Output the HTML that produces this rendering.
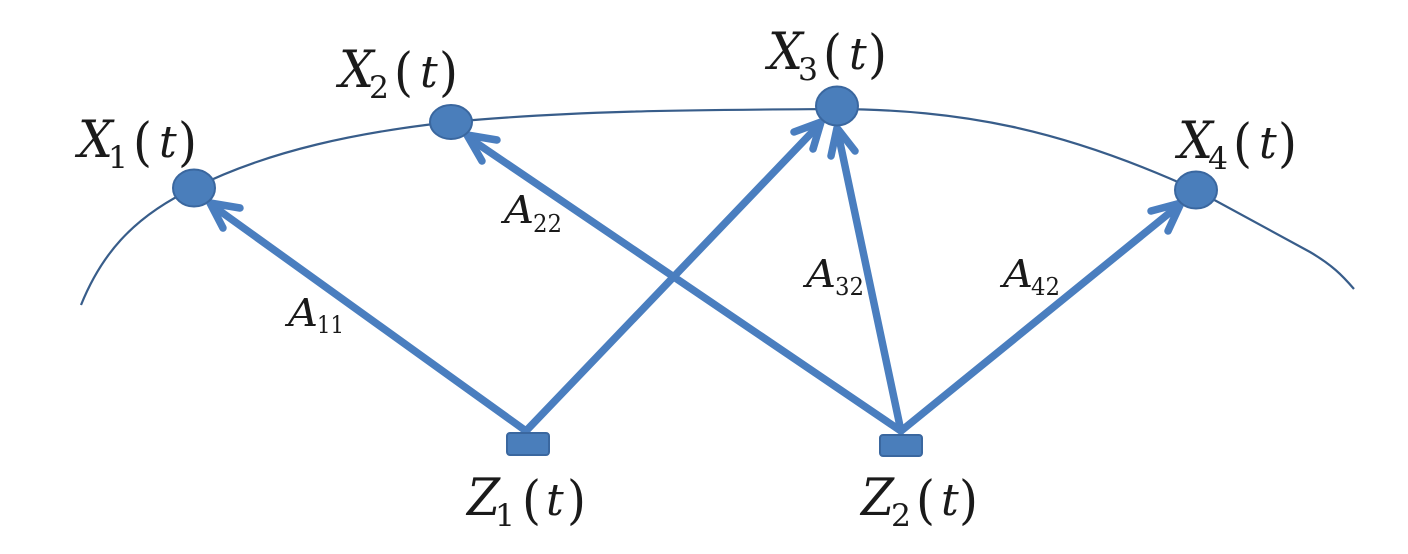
<!DOCTYPE html>
<html>
<head>
<meta charset="utf-8">
<style>
html,body{margin:0;padding:0;background:#fff;width:1408px;height:554px;overflow:hidden}
svg{display:block}
text{font-family:"DejaVu Serif","Liberation Serif",serif;fill:#1a1a1a}
.m{font-style:italic;font-size:51px}
.t{font-style:italic;font-size:44px}
.s{font-size:31px}
.p{font-size:52px}
.a{font-style:italic;font-size:38px}
.d{font-size:24px}
.ar{fill:none;stroke:#4a7ebf;stroke-width:7.5;stroke-linecap:round;stroke-linejoin:round}
</style>
</head>
<body>
<svg width="1408" height="554" viewBox="0 0 1408 554" xmlns="http://www.w3.org/2000/svg">
<rect width="1408" height="554" fill="#fff"/>
<path d="M81 305C100 258 130 218 194 188C270 150 360 132 451 122C580 110 700 110 837 109C960 110 1060 128 1196 190C1240 214 1280 236 1310 252C1332 265 1342 275 1354 289" fill="none" stroke="#385d8a" stroke-width="2.2"/>

<g class="ar">
<path d="M526 431L213 206"/>
<path d="M240 208L210 203L223 228"/>
<path d="M526 431L818 126"/>
<path d="M794 132L821 122L813 149"/>
<path d="M901 431L472 140"/>
<path d="M497 140L467 135L482 161"/>
<path d="M901 431L838 133"/>
<path d="M831 156L837 128L855 151"/>
<path d="M901 431L1178 206"/>
<path d="M1151 211L1181 203L1168 231"/>
</g>

<g fill="#4a7ebb" stroke="#3a679f" stroke-width="2">
<ellipse cx="194" cy="188" rx="21" ry="18.5"/>
<ellipse cx="451" cy="122" rx="21" ry="17"/>
<ellipse cx="837" cy="106" rx="21" ry="19.5"/>
<ellipse cx="1196" cy="190" rx="21" ry="18.5"/>
<rect x="507" y="433" width="42" height="22" rx="3"/>
<rect x="880" y="435" width="42" height="21" rx="3"/>
</g>

<!-- X1 -->
<text class="m" x="78" y="157" textLength="35" lengthAdjust="spacingAndGlyphs">X</text>
<text class="s" x="108" y="168" textLength="20" lengthAdjust="spacingAndGlyphs">1</text>
<text class="p" x="133" y="160" textLength="19" lengthAdjust="spacingAndGlyphs">(</text>
<text class="t" x="159" y="157">t</text>
<text class="p" x="178" y="160" textLength="19" lengthAdjust="spacingAndGlyphs">)</text>
<!-- X2 -->
<text class="m" x="339" y="87" textLength="35" lengthAdjust="spacingAndGlyphs">X</text>
<text class="s" x="369" y="98" textLength="20" lengthAdjust="spacingAndGlyphs">2</text>
<text class="p" x="394" y="90" textLength="19" lengthAdjust="spacingAndGlyphs">(</text>
<text class="t" x="420" y="87">t</text>
<text class="p" x="439" y="90" textLength="19" lengthAdjust="spacingAndGlyphs">)</text>
<!-- X3 -->
<text class="m" x="768" y="69" textLength="35" lengthAdjust="spacingAndGlyphs">X</text>
<text class="s" x="798" y="80" textLength="20" lengthAdjust="spacingAndGlyphs">3</text>
<text class="p" x="823" y="72" textLength="19" lengthAdjust="spacingAndGlyphs">(</text>
<text class="t" x="849" y="69">t</text>
<text class="p" x="868" y="72" textLength="19" lengthAdjust="spacingAndGlyphs">)</text>
<!-- X4 -->
<text class="m" x="1178" y="158" textLength="35" lengthAdjust="spacingAndGlyphs">X</text>
<text class="s" x="1208" y="169" textLength="20" lengthAdjust="spacingAndGlyphs">4</text>
<text class="p" x="1233" y="161" textLength="19" lengthAdjust="spacingAndGlyphs">(</text>
<text class="t" x="1259" y="158">t</text>
<text class="p" x="1278" y="161" textLength="19" lengthAdjust="spacingAndGlyphs">)</text>
<!-- Z1 -->
<text class="m" x="467" y="515" textLength="33" lengthAdjust="spacingAndGlyphs">Z</text>
<text class="s" x="495" y="526" textLength="20" lengthAdjust="spacingAndGlyphs">1</text>
<text class="p" x="522" y="518" textLength="19" lengthAdjust="spacingAndGlyphs">(</text>
<text class="t" x="546" y="515">t</text>
<text class="p" x="567" y="518" textLength="19" lengthAdjust="spacingAndGlyphs">)</text>
<!-- Z2 -->
<text class="m" x="861" y="515" textLength="33" lengthAdjust="spacingAndGlyphs">Z</text>
<text class="s" x="891" y="526" textLength="20" lengthAdjust="spacingAndGlyphs">2</text>
<text class="p" x="916" y="518" textLength="19" lengthAdjust="spacingAndGlyphs">(</text>
<text class="t" x="941" y="515">t</text>
<text class="p" x="959" y="518" textLength="19" lengthAdjust="spacingAndGlyphs">)</text>

<!-- edge labels -->
<text class="a" x="288" y="326" textLength="30" lengthAdjust="spacingAndGlyphs">A</text>
<text class="d" x="317" y="333" textLength="27" lengthAdjust="spacingAndGlyphs">11</text>
<text class="a" x="504" y="223" textLength="30" lengthAdjust="spacingAndGlyphs">A</text>
<text class="d" x="533" y="232" textLength="29" lengthAdjust="spacingAndGlyphs">22</text>
<text class="a" x="806" y="287" textLength="30" lengthAdjust="spacingAndGlyphs">A</text>
<text class="d" x="835" y="295" textLength="29" lengthAdjust="spacingAndGlyphs">32</text>
<text class="a" x="1003" y="287" textLength="30" lengthAdjust="spacingAndGlyphs">A</text>
<text class="d" x="1031" y="295" textLength="29" lengthAdjust="spacingAndGlyphs">42</text>
</svg>
</body>
</html>
